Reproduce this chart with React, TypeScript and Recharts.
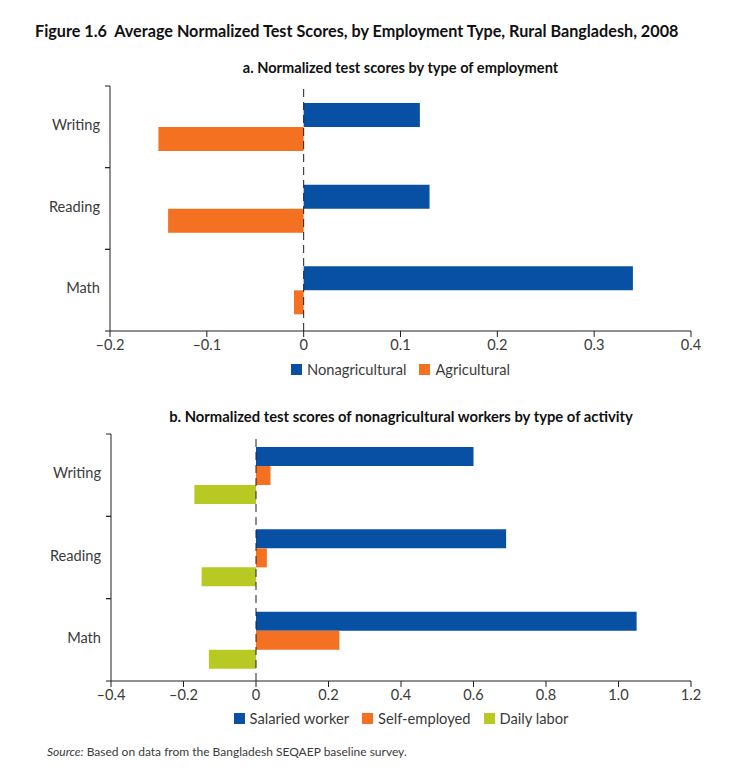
import { BarChart, Bar, XAxis, YAxis, ReferenceLine } from 'recharts';

const categories = ['Writing', 'Reading', 'Math'];

// panel a
const nonagricultural = [0.12, 0.13, 0.34];
const agricultural = [-0.15, -0.14, -0.01];
const ticksA = [-0.2, -0.1, 0, 0.1, 0.2, 0.3, 0.4];

// panel b
const salariedWorker = [0.6, 0.69, 1.05];
const selfEmployed = [0.04, 0.03, 0.23];
const dailyLabor = [-0.17, -0.15, -0.13];
const ticksB = [-0.4, -0.2, 0, 0.2, 0.4, 0.6, 0.8, 1.0, 1.2];

const BLUE = '#0750a3';
const ORANGE = '#f37121';
const GREEN = '#b9c924';
const INK = '#231f20';
const TEXT = '#3b3b3b';
const FONT = "Lato, 'Open Sans', sans-serif";

const seriesA = [
  { key: 'nonag', name: 'Nonagricultural', color: BLUE, values: nonagricultural },
  { key: 'ag', name: 'Agricultural', color: ORANGE, values: agricultural },
];

const seriesB = [
  { key: 'salaried', name: 'Salaried worker', color: BLUE, values: salariedWorker },
  { key: 'self', name: 'Self-employed', color: ORANGE, values: selfEmployed },
  { key: 'daily', name: 'Daily labor', color: GREEN, values: dailyLabor },
];

function buildRows(series: typeof seriesA) {
  return categories.map((cat, i) => {
    const row: Record<string, string | number> = { cat };
    series.forEach((s) => {
      row[s.key] = s.values[i];
    });
    return row;
  });
}

function fmt(v: number) {
  if (v === 0) return '0';
  const s = Math.abs(v).toFixed(1);
  return v < 0 ? `\u2013${s}` : s;
}

// category label plus small ticks at the band edges
function CategoryTick(props: any) {
  const { x, y, payload } = props;
  const half = payload.offset || 0;
  return (
    <g>
      <text x={x} y={y - 2} dy="0.35em" textAnchor="end" fill={TEXT} fontSize={14.6} fontFamily={FONT}>
        {payload.value}
      </text>
      <line x1={x + 5} x2={x + 10} y1={y - half} y2={y - half} stroke={INK} />
      <line x1={x + 5} x2={x + 10} y1={y + half} y2={y + half} stroke={INK} />
    </g>
  );
}

function LegendRow({ series }: { series: typeof seriesA }) {
  return (
    <div style={{ display: 'flex', justifyContent: 'center', gap: 13, fontFamily: FONT, fontSize: 14.7, color: TEXT }}>
      {series.map((s) => (
        <div key={s.key} style={{ display: 'flex', alignItems: 'center', gap: 5 }}>
          <span style={{ width: 11, height: 11, background: s.color, display: 'inline-block' }} />
          <span>{s.name}</span>
        </div>
      ))}
    </div>
  );
}

function Panel({ series, ticks, barSize, top, height, marginTop, axisWidth }: any) {
  const rows = buildRows(series);
  return (
    <div style={{ position: 'absolute', left: 0, top }}>
      <BarChart
        width={730}
        height={height}
        data={rows}
        layout="vertical"
        margin={{ top: marginTop, right: 39, bottom: 0, left: 0 }}
        barGap={0}
        barSize={barSize}
      >
        <XAxis
          type="number"
          domain={[ticks[0], ticks[ticks.length - 1]]}
          ticks={ticks}
          tickFormatter={fmt}
          height={29}
          tickSize={6}
          tickMargin={3}
          stroke={INK}
          tick={{ fill: TEXT, fontSize: 14.6, fontFamily: FONT }}
          interval={0}
        />
        <YAxis
          type="category"
          dataKey="cat"
          width={axisWidth}
          tickLine={false}
          tickSize={0}
          tickMargin={10}
          stroke={INK}
          tick={<CategoryTick />}
        />
        {series.map((s: any) => (
          <Bar key={s.key} dataKey={s.key} name={s.name} fill={s.color} isAnimationActive={false} />
        ))}
        <ReferenceLine x={0} stroke={INK} strokeDasharray="8 5" />
      </BarChart>
    </div>
  );
}

export default function App() {
  return (
    <div style={{ position: 'absolute', left: 0, top: 0, width: 730, height: 778, background: '#fff', fontFamily: FONT }}>
      <div style={{ position: 'absolute', left: 35, top: 21, fontSize: 16.2, fontWeight: 700, color: '#111', whiteSpace: 'nowrap' }}>
        Figure 1.6&nbsp;&nbsp;Average Normalized Test Scores, by Employment Type, Rural Bangladesh, 2008
      </div>
      <div style={{ position: 'absolute', left: 110, width: 581, top: 59, textAlign: 'center', fontSize: 14.6, fontWeight: 700, color: '#111', whiteSpace: 'nowrap' }}>
        a. Normalized test scores by type of employment
      </div>
      <Panel series={seriesA} ticks={ticksA} barSize={24} top={0} height={360} marginTop={86} axisWidth={110} />
      <div style={{ position: 'absolute', left: 110, width: 581, top: 360 }}>
        <LegendRow series={seriesA} />
      </div>

      <div style={{ position: 'absolute', left: 111, width: 580, top: 407, textAlign: 'center', fontSize: 14.8, fontWeight: 700, color: '#111', whiteSpace: 'nowrap' }}>
        b. Normalized test scores of nonagricultural workers by type of activity
      </div>
      <Panel series={seriesB} ticks={ticksB} barSize={19} top={380} height={330} marginTop={54} axisWidth={111} />
      <div style={{ position: 'absolute', left: 111, width: 580, top: 709 }}>
        <LegendRow series={seriesB} />
      </div>

      <div style={{ position: 'absolute', left: 47, top: 744, fontSize: 12, color: TEXT }}>
        <i>Source:</i> Based on data from the Bangladesh SEQAEP baseline survey.
      </div>
    </div>
  );
}
